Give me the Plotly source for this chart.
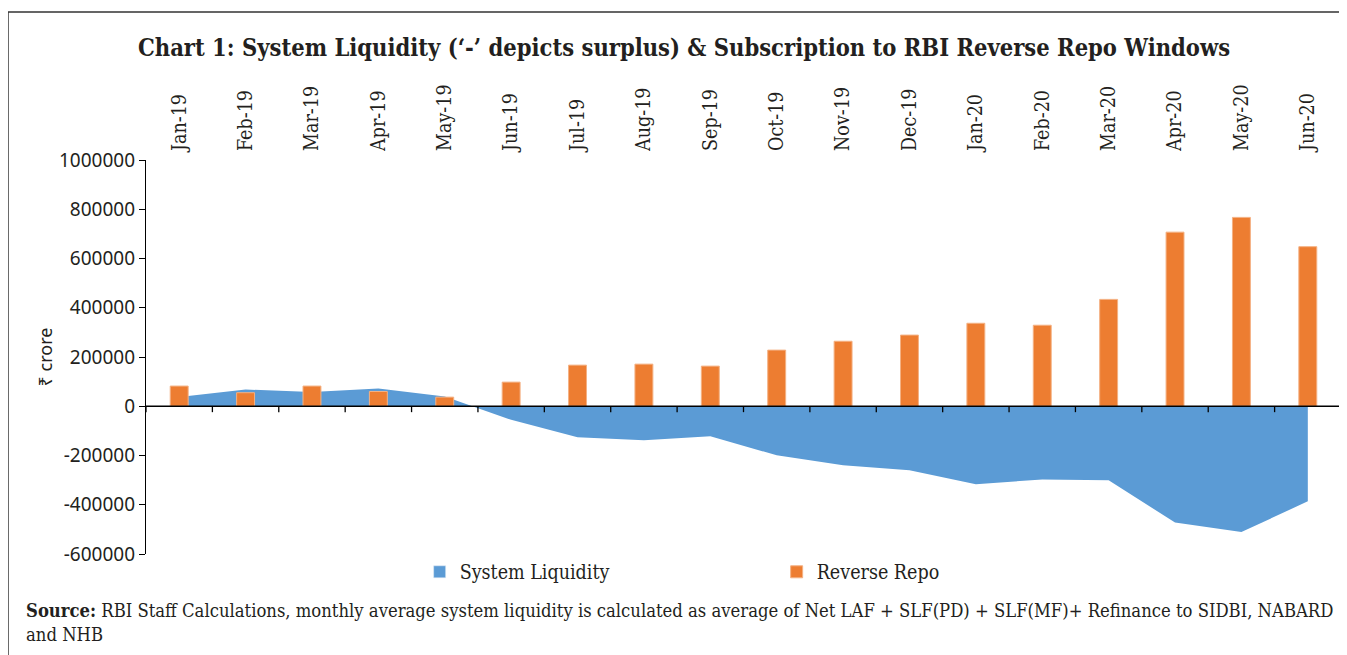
import plotly.graph_objects as go

months = ["Jan-19", "Feb-19", "Mar-19", "Apr-19", "May-19", "Jun-19", "Jul-19", "Aug-19",
          "Sep-19", "Oct-19", "Nov-19", "Dec-19", "Jan-20", "Feb-20", "Mar-20", "Apr-20",
          "May-20", "Jun-20"]
system_liquidity = [38000, 68000, 58000, 72000, 40000, -55000, -126000, -138000, -122000,
                    -199000, -240000, -260000, -317000, -297000, -301000, -472000, -511000, -386000]
reverse_repo = [82000, 55000, 82000, 60000, 37000, 98000, 167000, 171000, 163000, 228000,
                264000, 289000, 337000, 329000, 434000, 707000, 767000, 648000]
y_tickvals = [-600000, -400000, -200000, 0, 200000, 400000, 600000, 800000, 1000000]
y_ticktext = ["-600000", "-400000", "-200000", "0", "200000", "400000", "600000", "800000", "1000000"]

BLUE = "#5B9BD5"
ORANGE = "#ED7D31"
SERIF = "DejaVu Serif Condensed, DejaVu Serif"
SANS = "Noto Sans"
TXT = "#231F20"

fig = go.Figure()
fig.add_trace(go.Scatter(
    x=months, y=system_liquidity, name="System Liquidity", mode="lines",
    line=dict(width=0, color=BLUE), fill="tozeroy", fillcolor=BLUE,
    xaxis="x", yaxis="y", showlegend=False, legendgroup="sl",
))
# legend entry for the area (square swatch as in the original)
fig.add_trace(go.Bar(
    x=[None], y=[None], name="System Liquidity", marker=dict(color=BLUE),
    xaxis="x2", yaxis="y2", legendgroup="sl", showlegend=True,
))
fig.add_trace(go.Bar(
    x=months, y=reverse_repo, name="Reverse Repo", width=0.27,
    marker=dict(color=ORANGE, line=dict(color="#F4B183", width=1)),
    xaxis="x2", yaxis="y2",
))

n = len(months)
xr = [-0.5, n - 0.5]
yr = [-600000, 1000000]

shapes = []
shapes.append(dict(type="line", xref="x", yref="y", x0=xr[0], x1=xr[1], y0=0, y1=0,
                   line=dict(color="black", width=1.5), layer="above"))
for i in range(n + 1):
    shapes.append(dict(type="line", xref="x", yref="y", x0=i - 0.5, x1=i - 0.5, y0=0, y1=-24000,
                       line=dict(color="black", width=1.3), layer="above"))
shapes.append(dict(type="rect", xref="paper", yref="paper", x0=-0.1155, x1=1.02, y0=-0.4, y1=1.3756,
                   line=dict(color="#333333", width=1.5), fillcolor="rgba(0,0,0,0)", layer="below"))

fig.update_layout(
    width=1339, height=647,
    margin=dict(l=138, r=6, t=152, b=101),
    paper_bgcolor="white", plot_bgcolor="white",
    title=dict(
        text="Chart 1: System Liquidity (‘-’ depicts surplus) & Subscription to RBI Reverse Repo Windows",
        x=(684 - 8) / 1339, xanchor="center", y=1 - 40 / 647, yanchor="middle", yref="container",
        font=dict(family=SERIF, size=23.5, color=TXT, weight="bold"),
    ),
    xaxis=dict(
        type="category", categoryorder="array", categoryarray=months, range=xr,
        side="top", tickangle=-90, showline=False, ticks="", showgrid=False, zeroline=False,
        tickfont=dict(family=SERIF, size=19.5, color=TXT), ticklabelstandoff=8,
    ),
    yaxis=dict(
        range=yr, tickvals=y_tickvals, ticktext=y_ticktext, showgrid=False, zeroline=False,
        showline=True, linecolor="black", linewidth=1.3, ticks="outside", ticklen=6,
        tickcolor="black", tickwidth=1.3,
        tickfont=dict(family=SANS, size=19, color=TXT),
        title=dict(text="₹ crore", font=dict(family=SANS, size=18, color=TXT), standoff=1),
    ),
    xaxis2=dict(type="category", categoryorder="array", categoryarray=months, range=xr,
                overlaying="x", visible=False),
    yaxis2=dict(range=yr, overlaying="y", visible=False),
    barmode="overlay",
    showlegend=True,
    legend=dict(
        orientation="h", x=0.229, xanchor="left", y=-0.046, yanchor="middle",
        entrywidth=312, entrywidthmode="pixels", itemwidth=30,
        font=dict(family=SERIF, size=19.5, color=TXT), bgcolor="rgba(0,0,0,0)",
        traceorder="normal",
    ),
    shapes=shapes,
    annotations=[dict(
        xref="paper", yref="paper", x=-0.102, y=-0.1117, xanchor="left", yanchor="top",
        align="left", showarrow=False,
        text="<b>Source:</b> RBI Staff Calculations, monthly average system liquidity is calculated as average of Net LAF + SLF(PD) + SLF(MF)+ Refinance to SIDBI, NABARD<br>and NHB",
        font=dict(family=SERIF, size=18.3, color=TXT),
    )],
)

fig.write_html("out.html")
